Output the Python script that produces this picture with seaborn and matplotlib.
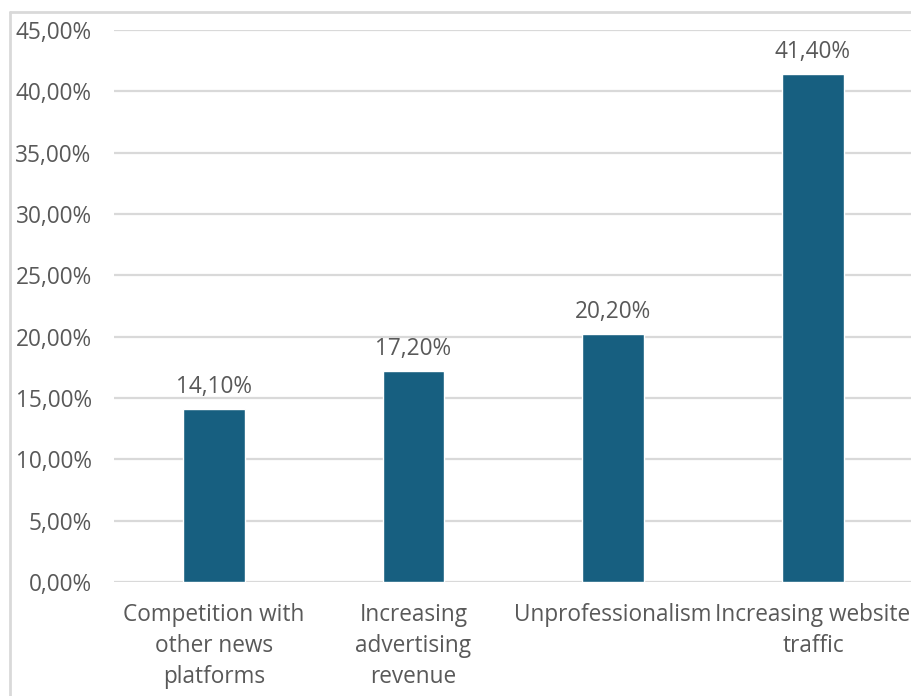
import matplotlib
matplotlib.use("Agg")
import matplotlib.pyplot as plt
from matplotlib.lines import Line2D
import seaborn as sns
import pandas as pd

categories = [
    "Competition with\nother news\nplatforms",
    "Increasing\nadvertising\nrevenue",
    "Unprofessionalism",
    "Increasing website\ntraffic",
]
values = [14.10, 17.20, 20.20, 41.40]
y_ticks = [0, 5, 10, 15, 20, 25, 30, 35, 40, 45]

bar_color = "#175F80"
text_color = "#595959"
grid_color = "#D9D9D9"

sns.set_theme(style="white")
plt.rcParams["font.family"] = ["Open Sans", "DejaVu Sans"]

df = pd.DataFrame({"category": categories, "value": values})

fig = plt.figure(figsize=(9.11, 6.96), dpi=100)
ax = fig.add_axes([0.125, 0.1638, 0.877, 0.7931])

sns.barplot(data=df, x="category", y="value", color=bar_color,
            width=0.31, saturation=1, ax=ax, zorder=3)

fs = 16.3
ax.set_ylim(0, 45)
ax.set_yticks(y_ticks)
ax.set_yticklabels([f"{t:.2f}".replace(".", ",") + "%" for t in y_ticks])
ax.yaxis.grid(True, color=grid_color, linewidth=1.6, zorder=0)
ax.set_axisbelow(True)
for s in ax.spines.values():
    s.set_visible(False)
ax.tick_params(axis="y", length=0, pad=16, labelsize=fs, labelcolor=text_color)
ax.tick_params(axis="x", length=0, pad=15, labelsize=fs, labelcolor=text_color)
for lbl in ax.get_xticklabels():
    lbl.set_linespacing(1.38)
ax.set_xlabel("")
ax.set_ylabel("")

for patch, v in zip(ax.patches, values):
    ax.annotate(f"{v:.2f}".replace(".", ",") + "%",
                (patch.get_x() + patch.get_width() / 2, v),
                xytext=(0, 7), textcoords="offset points",
                ha="center", va="bottom", fontsize=fs, color=text_color)

# outer frame of the chart area
fig.add_artist(Line2D([10 / 911, 1], [1 - 12 / 696, 1 - 12 / 696],
                      transform=fig.transFigure, color="#D9D9D9", linewidth=2))
fig.add_artist(Line2D([10 / 911, 10 / 911], [0, 1 - 12 / 696],
                      transform=fig.transFigure, color="#D9D9D9", linewidth=2))

fig.savefig("out.png", dpi=100)
